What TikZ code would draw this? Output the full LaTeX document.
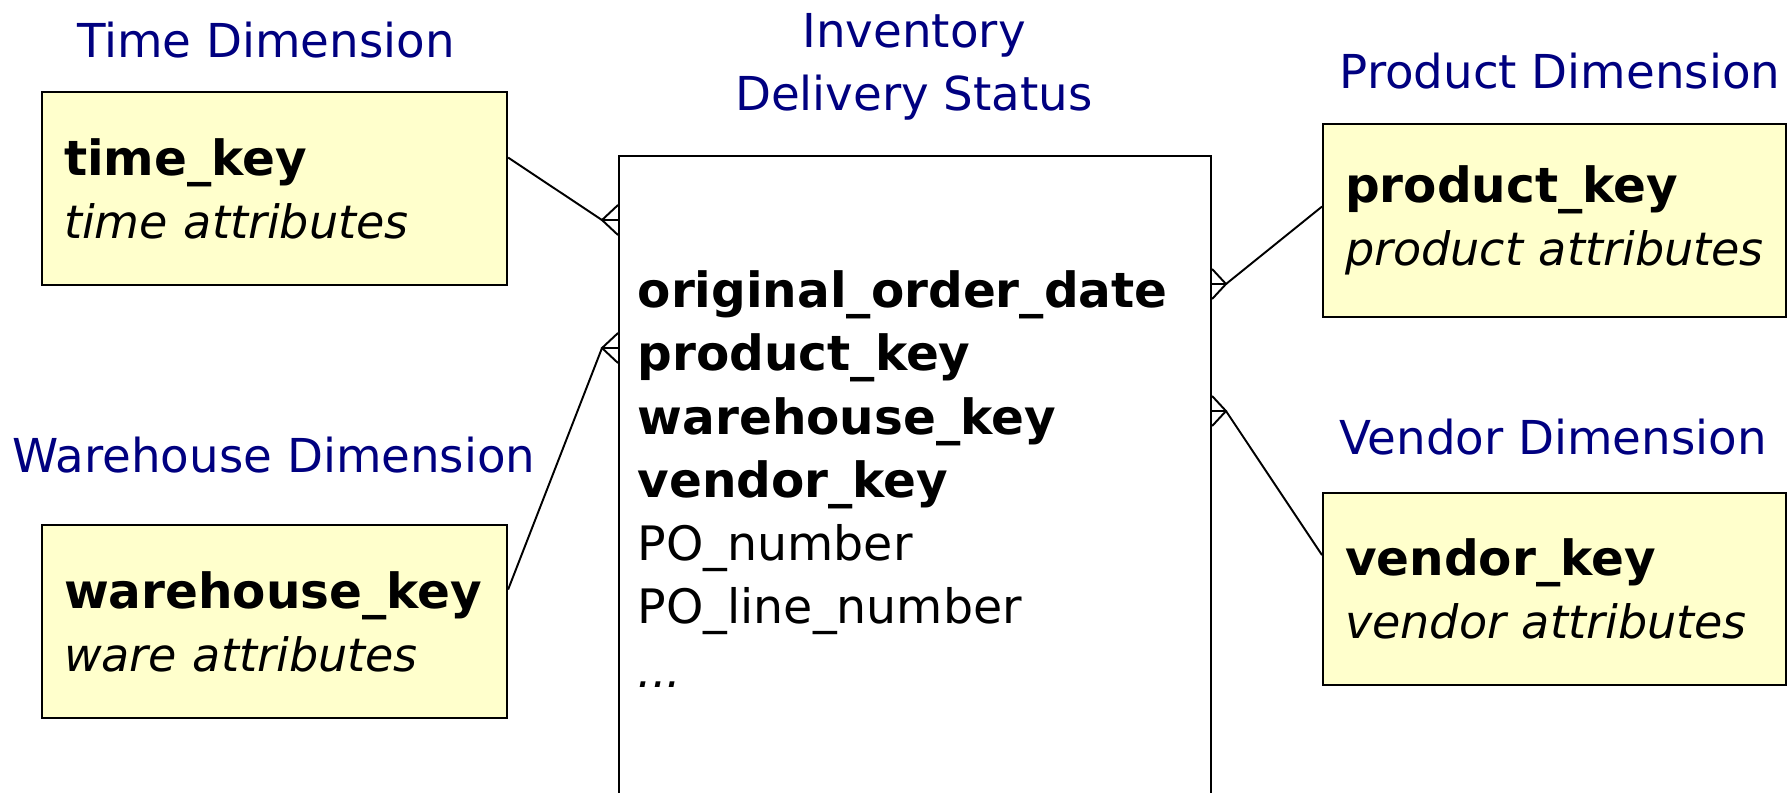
\documentclass[tikz,border=0pt]{standalone}
\usepackage{fontspec}
\setmainfont{DejaVu Sans}
\usepackage{tikz}
\usetikzlibrary{positioning,calc}
\definecolor{dimblue}{RGB}{0,0,128}
\definecolor{dimfill}{RGB}{255,255,204}
\newcommand{\keyf}[1]{{\fontsize{13.8}{18}\selectfont\bfseries #1}}
\newcommand{\attrf}[1]{{\fontsize{13.1}{18}\selectfont\itshape #1}}
\newcommand{\crowfoot}[2]{\draw[link] ($(#1 -| #2)+(0,-15)$) -- (#1) -- ($(#1 -| #2)+(0,15)$) (#1) -- (#1 -| #2);}
\tikzset{
  dimbox/.style={draw,line width=0.6pt,fill=dimfill,minimum width=46.5mm,minimum height=19.3mm,
    text width=42.1mm,align=left,inner sep=2.2mm,font=\fontsize{13.5}{18}\selectfont},
  dimtitle/.style={text=dimblue,font=\fontsize{13.3}{17.8}\selectfont,align=center,inner sep=0pt},
  link/.style={line width=0.55pt},
}

\begin{document}
\begin{tikzpicture}[x=0.1mm,y=-0.1mm]
  \clip (0,0) rectangle (1791,792);
  % fact table
  \node[draw,line width=0.6pt,minimum width=59.2mm,minimum height=70mm,anchor=north west,inner sep=0pt] (fact) at (618,155) {};
  \node[anchor=north west,inner sep=0pt,align=left,font=\fontsize{13.5}{18}\selectfont] (facttext) at (637,270)
    {\keyf{original\_order\_date}\\ \keyf{product\_key}\\ \keyf{warehouse\_key}\\ \keyf{vendor\_key}\\
     PO\_number\\ PO\_line\_number\\ \attrf{...}};
  \node[dimtitle] (facttitle) at (914,67) {Inventory\\Delivery Status};
  % dimension tables
  \node[dimbox,anchor=north west] (time) at (41,91) {\keyf{time\_key}\\\attrf{time attributes}};
  \node[dimbox,anchor=north west] (ware) at (41,524) {\keyf{warehouse\_key}\\\attrf{ware attributes}};
  \node[dimbox,anchor=north west,minimum width=46.3mm,text width=41.9mm] (prod) at (1322,123) {\keyf{product\_key}\\\attrf{product~attributes}};
  \node[dimbox,anchor=north west,minimum width=46.3mm,text width=41.9mm,minimum height=19.2mm] (vend) at (1322,492) {\keyf{vendor\_key}\\\attrf{vendor~attributes}};
  \node[dimtitle] (timetitle) at (266,40) {Time Dimension};
  \node[dimtitle] (waretitle) at (274,455) {Warehouse Dimension};
  \node[dimtitle] (prodtitle) at (1560,71) {Product Dimension};
  \node[dimtitle] (vendtitle) at (1553,437) {Vendor Dimension};
  % many-to-one links
  \coordinate (tfoot) at (602,220);
  \coordinate (wfoot) at (602,348);
  \coordinate (pfoot) at (1226,284);
  \coordinate (vfoot) at (1226,411);
  \draw[link] ($(time.east)+(0,-31)$) -- (tfoot);
  \draw[link] ($(ware.east)+(0,-32)$) -- (wfoot);
  \draw[link] ($(prod.west)+(0,-14)$) -- (pfoot);
  \draw[link] ($(vend.west)+(0,-34)$) -- (vfoot);
  \crowfoot{tfoot}{fact.west}
  \crowfoot{wfoot}{fact.west}
  \crowfoot{pfoot}{fact.east}
  \crowfoot{vfoot}{fact.east}
\end{tikzpicture}
\end{document}
